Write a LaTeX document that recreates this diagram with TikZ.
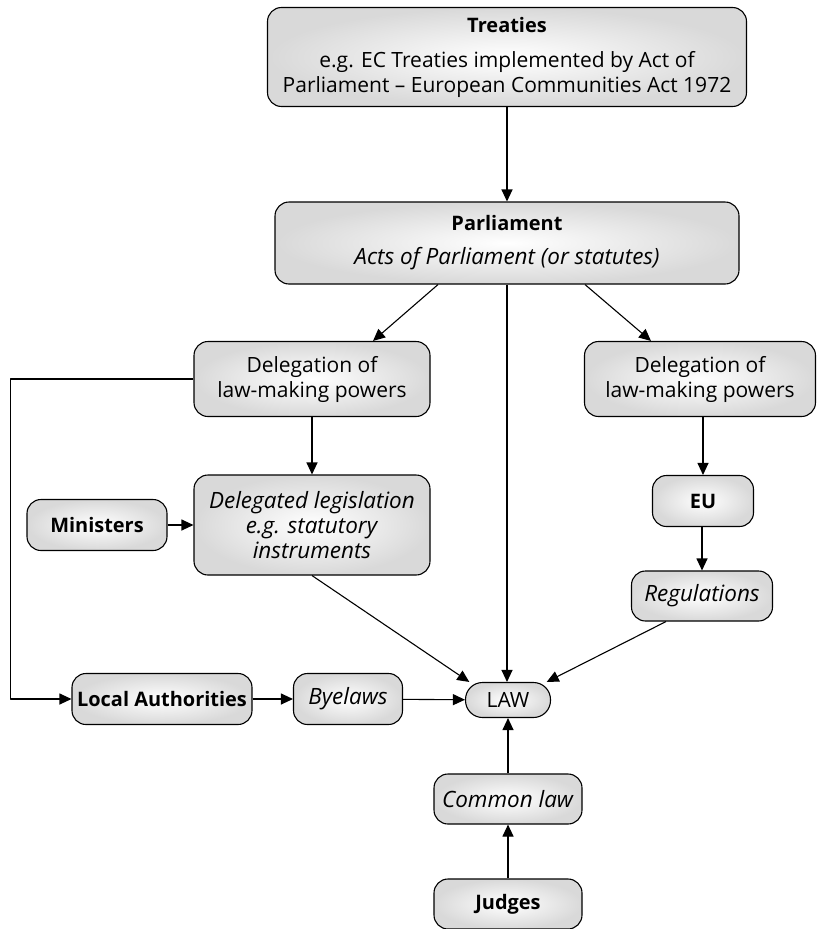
\documentclass[tikz,border=0pt]{standalone}
\usepackage{fontspec}
\setmainfont{Open Sans}[ItalicFeatures={Scale=1.07},BoldFeatures={Scale=0.95}]
\usetikzlibrary{arrows.meta}
\begin{document}
\begin{tikzpicture}[x=1pt,y=-1pt,line width=1.1pt,line join=round,
	box/.style={draw,rounded corners=14pt,inner color=white,outer color=gray!30,align=center,inner sep=0pt,font=\fontsize{21}{25}\selectfont},
	arr/.style={-{Triangle[length=12pt,width=11pt]}}]
		\useasboundingbox (0,0) rectangle (817,929);
		\node[box,minimum width=479,minimum height=99] (treaties) at (507,57) {\textbf{Treaties}\\[10pt]e.g. EC Treaties implemented by Act of\\Parliament -- European Communities Act 1972};
		\node[box,minimum width=464,minimum height=82] (parl) at (507,243) {\textbf{Parliament}\\[9pt]\textit{Acts of Parliament (or statutes)}};
		\node[box,minimum width=236,minimum height=75] (delL) at (312,379) {Delegation of\\law-making powers};
		\node[box,minimum width=231,minimum height=75] (delR) at (700,379) {Delegation of\\law-making powers};
		\node[box,minimum width=236,minimum height=100] (dleg) at (312,525) {\textit{Delegated legislation}\\\textit{e.g. statutory}\\\textit{instruments}};
		\node[box,minimum width=140,minimum height=51] (min) at (97,525) {\textbf{Ministers}};
		\node[box,minimum width=101,minimum height=51] (eu) at (703,501) {\textbf{EU}};
		\node[box,minimum width=141,minimum height=50] (reg) at (702,596) {\textit{Regulations}};
		\node[box,minimum width=180,minimum height=51] (la) at (162,699) {\textbf{Local Authorities}};
		\node[box,minimum width=109,minimum height=51] (bye) at (348,699) {\textit{Byelaws}};
		\node[box,rounded corners=17pt,minimum width=85,minimum height=35] (law) at (508,700) {LAW};
		\node[box,minimum width=148,minimum height=50] (cl) at (508,799) {\textit{Common law}};
		\node[box,minimum width=148,minimum height=50] (jud) at (508,904) {\textbf{Judges}};
		% connectors
		\draw[arr] (treaties) -- (parl);
		\draw[arr] ([xshift=-69pt]parl.south) -- ([xshift=61pt]delL.north);
		\draw[arr] ([xshift=78pt]parl.south) -- ([xshift=-49pt]delR.north);
		\draw[arr] (parl.south) -- (parl.south |- law.north);
		\draw[arr] (delL) -- (dleg);
		\draw[arr] (min) -- (dleg);
		\draw[arr] (delR.south -| eu) -- (eu);
		\draw[arr] (eu.south -| reg) -- (reg);
		\draw[arr] (delL.west) -| ([xshift=-61pt]la.west) -- (la.west);
		\draw[arr] (la) -- (bye);
		\draw[arr] (bye) -- (law);
		\draw[arr] (dleg.south) -- (law.155);
		\draw[arr] ([xshift=-36pt]reg.south) -- (law.25);
		\draw[arr] (cl) -- (law);
		\draw[arr] (jud) -- (cl);
\end{tikzpicture}
\end{document}
